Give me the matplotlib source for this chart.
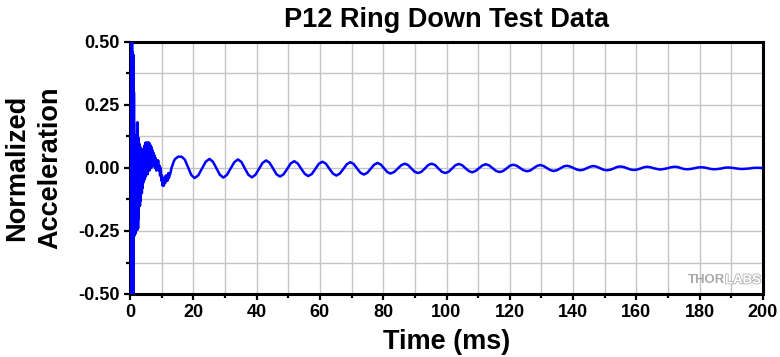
import matplotlib
matplotlib.use("Agg")
import matplotlib.pyplot as plt
import matplotlib.patheffects as pe
from matplotlib.ticker import MultipleLocator

plt.rcParams['font.family'] = ['Liberation Sans', 'DejaVu Sans']
plt.rcParams['font.weight'] = 'bold'

# start of the ring down: dense burst (ms, normalized acceleration)
burst_time = [0.00, 0.05, 0.15, 0.25, 0.35, 0.45, 0.55, 0.65, 0.75, 0.85,
              0.95, 1.05, 1.15, 1.25, 1.35, 1.45, 1.55, 1.65, 1.75, 1.85,
              1.95, 2.05, 2.15, 2.25, 2.35, 2.45, 2.55, 2.65, 2.75, 2.85,
              2.95, 3.05, 3.15, 3.25, 3.35, 3.45, 3.55, 3.65, 3.75, 3.85,
              3.95, 4.05, 4.15, 4.25, 4.35, 4.45, 4.55, 4.65, 4.75, 4.85,
              4.95, 5.05, 5.15, 5.25, 5.35, 5.45, 5.55, 5.65, 5.75, 5.85,
              5.95, 6.05, 6.15, 6.25, 6.35, 6.45, 6.55, 6.65, 6.75, 6.85,
              7.00, 7.15, 7.30, 7.45, 7.60, 7.75, 7.90, 8.10, 8.30, 8.50,
              8.70, 8.90, 9.10, 9.30, 9.50, 9.70, 9.90, 10.1, 10.3, 10.5,
              10.7, 10.9, 11.1, 11.3, 11.5, 11.7, 11.9, 12.1, 12.3, 12.5,
              12.8, 13.1, 13.4, 13.8, 14.2, 14.7, 15.2, 15.7]
burst_accel = [0.00, 0.60, -0.60, 0.60, -0.60, 0.60, -0.60, 0.60, -0.60, 0.46,
               -0.60, 0.45, -0.55, 0.30, -0.27, 0.13, -0.26, 0.10, -0.26, 0.12,
               -0.25, 0.10, -0.24, 0.18, -0.245, 0.18, -0.24, 0.12, -0.20, 0.09,
               -0.15, 0.095, -0.15, 0.08, -0.13, 0.08, -0.10, 0.075, -0.10, 0.07,
               -0.08, 0.065, -0.06, 0.066, -0.05, 0.07, -0.046, 0.09, -0.04, 0.10,
               -0.03, 0.10, -0.02, 0.10, -0.02, 0.10, -0.025, 0.10, -0.01, 0.10,
               0.00, 0.10, -0.01, 0.095, 0.00, 0.09, 0.01, 0.085, 0.00, 0.08,
               0.02, 0.07, 0.01, 0.06, 0.02, 0.05, 0.00, 0.04, -0.01, 0.03,
               0.00, 0.03, -0.01, 0.01, -0.03, 0.00, -0.05, -0.03, -0.07, -0.04,
               -0.07, -0.04, -0.06, -0.03, -0.05, -0.03, -0.05, -0.02, -0.04, -0.03,
               -0.02, 0.00, 0.01, 0.025, 0.035, 0.04, 0.045, 0.045]

# decaying ring: crest, trough and in-between readings
ring_time = [16.3, 17.33, 18.35, 19.38, 20.4, 21.58, 22.75, 23.93,
             25.1, 26.2, 27.3, 28.4, 29.5, 30.65, 31.8, 32.95,
             34.1, 35.2, 36.3, 37.4, 38.5, 39.63, 40.75, 41.88,
             43.0, 44.1, 45.2, 46.3, 47.4, 48.53, 49.65, 50.78,
             51.9, 53.0, 54.1, 55.2, 56.3, 57.43, 58.55, 59.68,
             60.8, 61.9, 63.0, 64.1, 65.2, 66.3, 67.4, 68.5,
             69.6, 70.68, 71.75, 72.83, 73.9, 74.98, 76.05, 77.13,
             78.2, 79.23, 80.25, 81.28, 82.3, 83.43, 84.55, 85.68,
             86.8, 87.85, 88.9, 89.95, 91.0, 92.08, 93.15, 94.23,
             95.3, 96.38, 97.45, 98.53, 99.6, 100.68, 101.75, 102.83,
             103.9, 104.95, 106.0, 107.05, 108.1, 109.18, 110.25, 111.33,
             112.4, 113.5, 114.6, 115.7, 116.8, 117.88, 118.95, 120.03,
             121.1, 122.18, 123.25, 124.33, 125.4, 126.45, 127.5, 128.55,
             129.6, 130.65, 131.7, 132.75, 133.8, 134.85, 135.9, 136.95,
             138.0, 139.05, 140.1, 141.15, 142.2, 143.25, 144.3, 145.35,
             146.4, 147.48, 148.55, 149.63, 150.7, 151.75, 152.8, 153.85,
             154.9, 155.98, 157.05, 158.13, 159.2, 160.25, 161.3, 162.35,
             163.4, 164.45, 165.5, 166.55, 167.6, 168.7, 169.8, 170.9,
             172.0, 173.0, 174.0, 175.0, 176.0, 177.13, 178.25, 179.38,
             180.5, 181.53, 182.55, 183.58, 184.6, 185.7, 186.8, 187.9,
             189.0, 190.1, 191.2, 192.3, 193.4, 194.5, 195.6, 196.7,
             197.8, 200.0]
ring_accel = [0.045, 0.033, 0.003, -0.028, -0.040, -0.029, -0.002, 0.025,
              0.036, 0.025, -0.001, -0.027, -0.038, -0.027, -0.002, 0.023,
              0.034, 0.024, -0.002, -0.027, -0.037, -0.027, -0.004, 0.020,
              0.030, 0.021, -0.002, -0.025, -0.034, -0.025, -0.004, 0.018,
              0.027, 0.018, -0.003, -0.023, -0.032, -0.024, -0.004, 0.017,
              0.025, 0.017, -0.003, -0.022, -0.030, -0.022, -0.004, 0.015,
              0.023, 0.016, -0.002, -0.019, -0.026, -0.019, -0.003, 0.013,
              0.020, 0.014, -0.001, -0.016, -0.022, -0.016, -0.003, 0.011,
              0.017, 0.012, -0.002, -0.015, -0.020, -0.015, -0.002, 0.012,
              0.017, 0.012, -0.002, -0.015, -0.020, -0.015, -0.002, 0.011,
              0.016, 0.011, -0.001, -0.012, -0.017, -0.012, -0.001, 0.010,
              0.015, 0.010, -0.001, -0.012, -0.016, -0.012, -0.002, 0.009,
              0.013, 0.009, 0.000, -0.009, -0.013, -0.010, -0.001, 0.008,
              0.012, 0.008, 0.000, -0.008, -0.012, -0.009, -0.002, 0.006,
              0.009, 0.006, 0.000, -0.006, -0.009, -0.007, -0.001, 0.005,
              0.008, 0.005, -0.001, -0.007, -0.009, -0.007, -0.002, 0.004,
              0.006, 0.004, -0.001, -0.006, -0.008, -0.006, -0.002, 0.003,
              0.005, 0.003, -0.001, -0.004, -0.006, -0.004, -0.001, 0.003,
              0.005, 0.004, 0.000, -0.004, -0.005, -0.004, -0.001, 0.002,
              0.003, 0.002, -0.001, -0.004, -0.005, -0.004, -0.002, 0.001,
              0.002, 0.001, -0.001, -0.003, -0.004, -0.003, -0.002, 0.000,
              0.001, 0.000]

x_ticks = [0, 20, 40, 60, 80, 100, 120, 140, 160, 180, 200]
y_ticks = [-0.50, -0.25, 0.00, 0.25, 0.50]

t = burst_time + ring_time
acc = burst_accel + ring_accel

fig = plt.figure(figsize=(7.8, 3.57), dpi=100)
ax = fig.add_axes([130 / 780, 1 - 294 / 357, 633 / 780, 252 / 357])

ax.plot(t, acc, color='#0000ff', lw=1.8, zorder=3)

ax.set_xlim(0, 200)
ax.set_ylim(-0.5, 0.5)
ax.set_xticks(x_ticks)
ax.set_yticks(y_ticks)
ax.set_yticklabels(['%.2f' % v for v in y_ticks])
ax.xaxis.set_minor_locator(MultipleLocator(10))
ax.yaxis.set_minor_locator(MultipleLocator(0.125))
ax.grid(True, which='both', color='#c4c4c4', lw=1.0, zorder=0)
ax.set_axisbelow(True)

for s in ax.spines.values():
    s.set_linewidth(2.2)
    s.set_color('black')
ax.tick_params(which='major', direction='out', length=4.5, width=1.6,
               labelsize=13, pad=3, top=False, right=False)
ax.tick_params(which='minor', direction='out', length=3, width=1.6,
               top=False, right=False)
for lab in ax.get_xticklabels() + ax.get_yticklabels():
    lab.set_fontweight('bold')

ax.set_xlabel('Time (ms)', fontsize=19.5, fontweight='bold')
ax.xaxis.set_label_coords(0.5, -0.14)
ax.set_ylabel('Normalized\nAcceleration', fontsize=19.5, fontweight='bold',
              linespacing=1.38)
ax.yaxis.set_label_coords(-0.152, 0.5)
ax.yaxis.label.set_va('center')

fig.text(446.5 / 780, 1 - 27 / 357, 'P12 Ring Down Test Data', ha='center',
         va='baseline', fontsize=19.5, fontweight='bold')

# watermark
ax.text(0.940, 0.03, 'THOR', transform=ax.transAxes, ha='right', va='bottom',
        fontsize=9.5, fontweight='bold', color='#a8a8a8')
ax.text(0.940, 0.03, 'LABS', transform=ax.transAxes, ha='left', va='bottom',
        fontsize=9.5, fontweight='bold', color='white',
        path_effects=[pe.withStroke(linewidth=1.2, foreground='#b4b4b4')])

fig.savefig('out.png', dpi=100)
